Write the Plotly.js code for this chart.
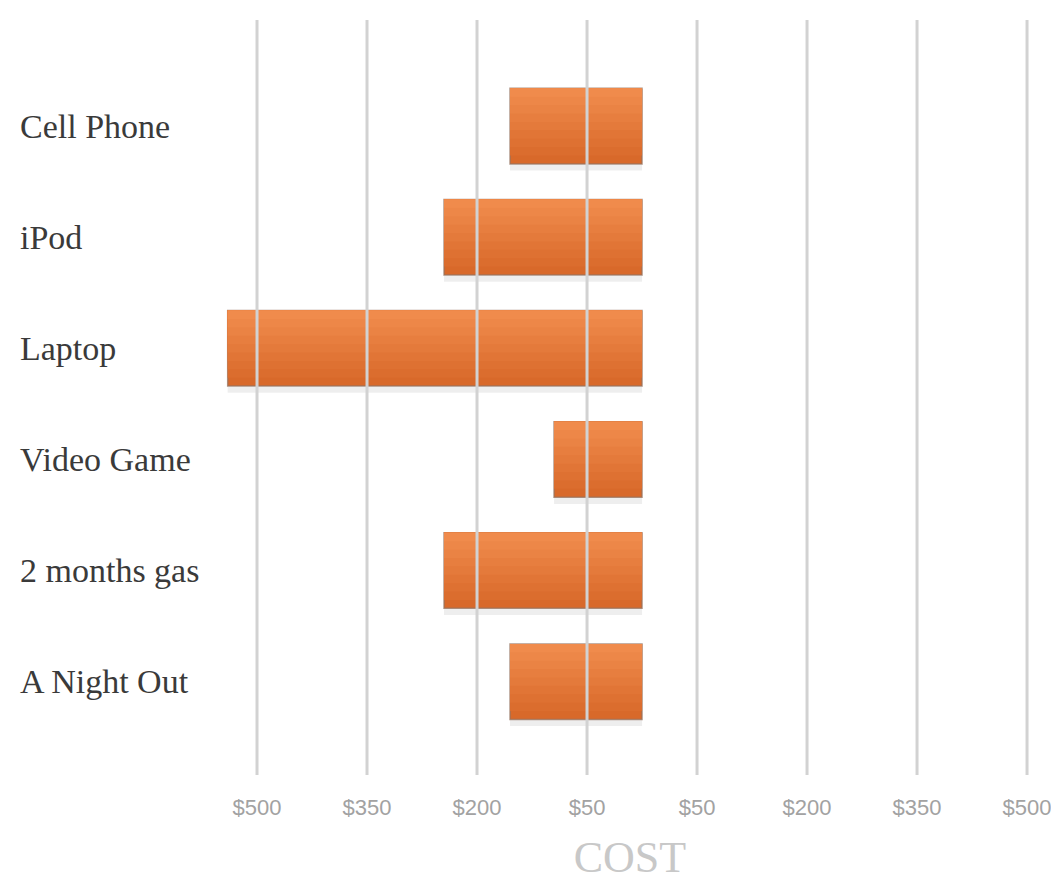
<!DOCTYPE html>
<html>
<head>
<meta charset="utf-8">
<script src="https://cdn.plot.ly/plotly-3.0.1.min.js"></script>
<style>html,body{margin:0;padding:0;background:#fff;}#chart{width:1051px;height:890px;}</style>
</head>
<body>
<div id="chart"></div>
<script>
// Data
const categories = ["Cell Phone", "iPod", "Laptop", "Video Game", "2 months gas", "A Night Out"];
const costs = [-180, -270, -565, -120, -270, -180];
const tickValues = [-525, -375, -225, -75, 75, 225, 375, 525];
const tickLabels = ["$500", "$350", "$200", "$50", "$50", "$200", "$350", "$500"];

const bandColors = ["#D8692A", "#DB6D2E", "#DE7132", "#E17536", "#E47A3B", "#E77E3F", "#EA8344", "#ED8748", "#F08B4C"];

const traces = [];
// shadow
traces.push({
  type: 'bar', orientation: 'h', y: categories, x: costs,
  width: 0.06, offset: 0.34,
  marker: {color: 'rgba(200,200,200,0.3)'},
  hoverinfo: 'skip', showlegend: false
});
const n = bandColors.length;
bandColors.forEach((c, i) => {
  const w = 0.68 * (n - i) / n;
  traces.push({
    type: 'bar', orientation: 'h', y: categories, x: costs,
    width: w, offset: -0.34,
    marker: {color: c, line: {color: i === 0 ? 'rgba(150,115,95,0.75)' : 'rgba(0,0,0,0)', width: i === 0 ? 1.5 : 0}},
    hoverinfo: 'skip', showlegend: false
  });
});

const shapes = tickValues.map(v => ({
  type: 'line', xref: 'x', yref: 'paper', x0: v, x1: v, y0: 0, y1: 1,
  line: {color: '#d2d2d2', width: 3}, layer: 'above'
}));

const annotations = categories.map(c => ({
  xref: 'paper', yref: 'y', x: -0.2373, y: c, text: c, showarrow: false,
  xanchor: 'left', yanchor: 'middle',
  font: {family: 'Liberation Serif, DejaVu Serif, serif', size: 34, color: '#3a3a3a'}
}));

const layout = {
  width: 1051, height: 890,
  margin: {l: 215, r: 6, t: 20, b: 115},
  paper_bgcolor: '#ffffff', plot_bgcolor: '#ffffff',
  barmode: 'overlay',
  showlegend: false,
  xaxis: {
    range: [-582.3, 549.5],
    tickvals: tickValues, ticktext: tickLabels,
    showgrid: false, zeroline: false, showline: false, ticks: '',
    ticklabelstandoff: 17,
    ticklabeloverflow: 'allow',
    tickfont: {family: 'Liberation Sans Narrow, Arial Narrow, sans-serif', size: 22, color: '#a2a2a2'},
    title: {text: 'COST', standoff: 22, font: {family: 'Liberation Serif, DejaVu Serif, serif', size: 44, color: '#c8c8c8'}}
  },
  yaxis: {
    categoryorder: 'array', categoryarray: categories,
    range: [5.84, -0.955],
    showticklabels: false, showgrid: false, zeroline: false, showline: false, ticks: ''
  },
  shapes: shapes,
  annotations: annotations
};

Plotly.newPlot('chart', traces, layout, {displayModeBar: false, staticPlot: true});
</script>
</body>
</html>
